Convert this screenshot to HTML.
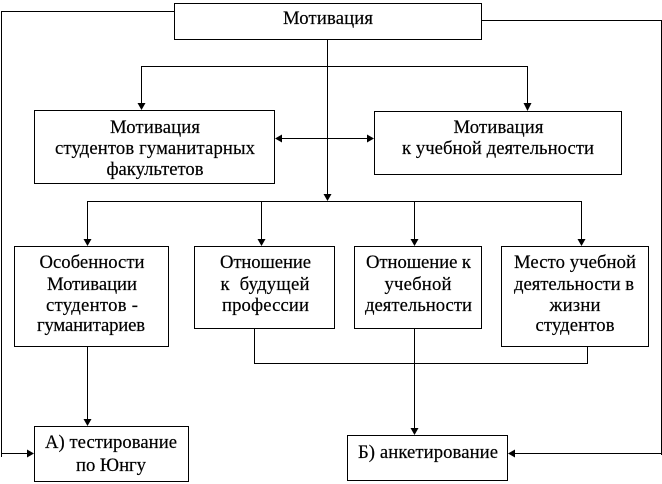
<!DOCTYPE html>
<html><head><meta charset="utf-8"><style>
html,body{margin:0;padding:0;background:#fff;width:662px;height:484px;overflow:hidden}
svg{display:block}
rect,path.l{fill:none;stroke:#000;stroke-width:1;shape-rendering:crispEdges}
polygon{fill:#000;stroke:none}
text{font-family:"Liberation Serif",serif;font-size:18.67px;fill:#000;stroke:#000;stroke-width:.2;text-anchor:middle}
</style></head><body>
<svg width="662" height="484" viewBox="0 0 662 484" xmlns="http://www.w3.org/2000/svg">
<rect x="174.5" y="3.5" width="307" height="36"/>
<rect x="34.5" y="110.5" width="240" height="73"/>
<rect x="374.5" y="111.5" width="247" height="63"/>
<rect x="14.5" y="246.5" width="154" height="100"/>
<rect x="194.5" y="246.5" width="140" height="82"/>
<rect x="354.5" y="246.5" width="127" height="82"/>
<rect x="501.5" y="246.5" width="147" height="100"/>
<rect x="34.5" y="426.5" width="154" height="55"/>
<rect x="347.5" y="435.5" width="160" height="45"/>
<path class="l" d="M174 11.5H1.5V457M1.5 453.5H30"/>
<path class="l" d="M481 20.5H661.5V455M661.5 453.5H512"/>
<path class="l" d="M327.5 39V198M141.5 104V66.5H527.5V105"/>
<path class="l" d="M279 138.5H370"/>
<path class="l" d="M87.5 240V201.5H581.5V240M261.5 201V240M414.5 201V240"/>
<path class="l" d="M254.5 328V363.5H587.5V346M414.5 328V429M87.5 346V420"/>
<polygon points="137.5,103 145.5,103 141.5,110"/>
<polygon points="523.5,103 531.5,103 527.5,111"/>
<polygon points="323.5,194 331.5,194 327.5,201"/>
<polygon points="275,138.5 282,134.5 282,142.5"/>
<polygon points="374,138.5 367,134.5 367,142.5"/>
<polygon points="83.5,239 91.5,239 87.5,246"/>
<polygon points="257.5,239 265.5,239 261.5,246"/>
<polygon points="410.5,239 418.5,239 414.5,246"/>
<polygon points="577.5,239 585.5,239 581.5,246"/>
<polygon points="83.5,419 91.5,419 87.5,426"/>
<polygon points="410.5,428 418.5,428 414.5,435"/>
<polygon points="34,453.5 27,449.5 27,457.5"/>
<polygon points="508,453.5 515,449.5 515,457.5"/>
<text x="328" y="24" textLength="90">Мотивация</text>
<text x="155" y="133" textLength="90">Мотивация</text>
<text x="155" y="154" textLength="200">студентов гуманитарных</text>
<text x="155" y="175" textLength="97">факультетов</text>
<text x="498.5" y="133" textLength="90">Мотивация</text>
<text x="498" y="154" textLength="192">к учебной деятельности</text>
<text x="92" y="268" textLength="105">Особенности</text>
<text x="92" y="290" textLength="90">Мотивации</text>
<text x="92" y="311" textLength="92">студентов -</text>
<text x="91" y="331" textLength="108">гуманитариев</text>
<text x="265.5" y="268" textLength="91">Отношение</text>
<text x="265" y="290" textLength="89" xml:space="preserve">к  будущей</text>
<text x="265.5" y="311" textLength="87">профессии</text>
<text x="418.5" y="268" textLength="105">Отношение к</text>
<text x="418" y="290" textLength="67">учебной</text>
<text x="418.5" y="311" textLength="107">деятельности</text>
<text x="575" y="268" textLength="122">Место учебной</text>
<text x="574" y="290" textLength="120">деятельности в</text>
<text x="575" y="311" textLength="51">жизни</text>
<text x="575" y="331" textLength="79">студентов</text>
<text x="111" y="448" textLength="132">А) тестирование</text>
<text x="111" y="471" textLength="70">по Юнгу</text>
<text x="428" y="458" textLength="140">Б) анкетирование</text>
</svg>
</body></html>
